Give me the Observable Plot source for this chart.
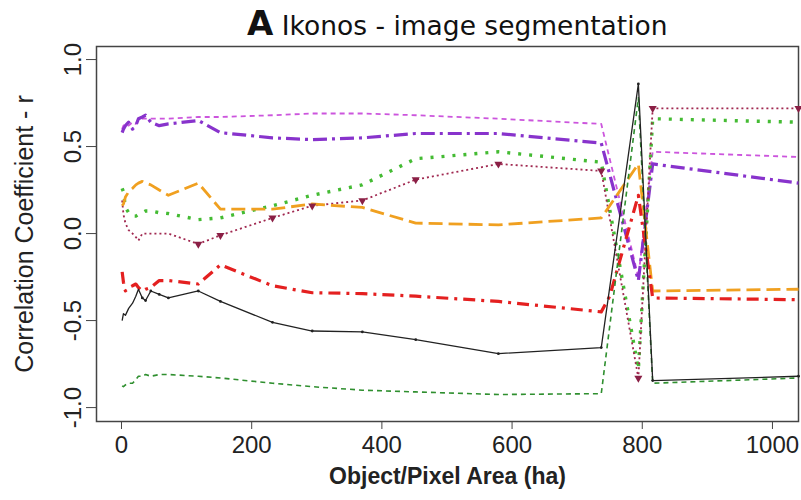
<!DOCTYPE html>
<html><head><meta charset="utf-8">
<script src="https://cdn.jsdelivr.net/npm/d3@7"></script>
<script src="https://cdn.jsdelivr.net/npm/@observablehq/plot@0.6"></script>
<style>body{margin:0;background:#fff} #chart{width:801px;height:500px;position:relative}</style>
</head><body><div id="chart"></div>
<script>
// Object/pixel area (ha) sample points
const areaHa = [1,3,6,11,17,22,26,32,37,45,58,72,118,152,232,293,370,452,579,737,750,794,816,1040];
// Correlation coefficient r for each series (null = no point at that area)
const rOrchid   = [0.60,0.62,0.63,0.62,0.64,0.63,0.65,0.66,0.66,0.66,0.66,0.66,0.67,0.67,0.68,0.69,0.69,0.68,0.66,0.63,null,-0.25,0.47,0.44];
const rPurple   = [0.58,0.60,0.62,0.64,0.60,0.62,0.66,0.67,0.68,0.64,0.62,0.63,0.65,0.58,0.55,0.54,0.55,0.575,0.575,0.52,null,-0.27,0.40,0.29];
const rLime     = [0.26,0.24,0.15,0.12,0.10,0.10,0.11,0.12,0.13,0.13,0.12,0.115,0.08,0.09,0.16,0.22,0.28,0.43,0.47,0.41,null,-0.78,0.66,0.64];
const rMaroon   = [0.19,0.11,0.06,0.02,0.0,-0.02,-0.04,0.0,0.0,0.0,0.0,0.0,-0.06,-0.01,0.09,0.16,0.19,0.31,0.40,0.36,null,-0.83,0.72,0.72];
const rOrange   = [0.16,0.17,0.21,0.24,0.26,0.28,0.29,0.30,0.29,0.28,0.25,0.22,0.29,0.14,0.14,0.17,0.15,0.06,0.05,0.09,0.16,0.40,-0.33,-0.32];
const rRed      = [-0.22,-0.28,-0.33,-0.31,-0.30,-0.29,-0.31,-0.33,-0.32,-0.31,-0.27,-0.27,-0.29,-0.18,-0.30,-0.34,-0.345,-0.36,-0.39,-0.45,-0.36,0.22,-0.37,-0.38];
const rDarkGreen= [-0.875,-0.88,-0.87,-0.86,-0.86,-0.84,-0.82,-0.82,-0.81,-0.82,-0.81,-0.81,-0.82,-0.83,-0.86,-0.88,-0.90,-0.91,-0.925,-0.92,null,0.78,-0.86,-0.83];
const rBlack    = [-0.50,-0.46,-0.47,-0.43,-0.40,-0.36,-0.32,-0.37,-0.385,-0.33,-0.35,-0.37,-0.33,-0.39,-0.51,-0.56,-0.565,-0.61,-0.69,-0.655,null,0.86,-0.845,-0.82];

const xTicks = [0,200,400,600,800,1000];
const yTicks = [-1,-0.5,0,0.5,1];

const seriesDefs = [
  {values: rOrchid,    stroke: "#cc55dd", width: 1.8, dash: "5,4"},
  {values: rPurple,    stroke: "#8833cc", width: 3.2, dash: "14,5,3,5"},
  {values: rLime,      stroke: "#44bb33", width: 3.4, dash: "3,8"},
  {values: rMaroon,    stroke: "#a02850", width: 1.8, dash: "2,3"},
  {values: rOrange,    stroke: "#f0a020", width: 2.8, dash: "14,6"},
  {values: rRed,       stroke: "#e42020", width: 3.2, dash: "12,6,3,6"},
  {values: rDarkGreen, stroke: "#2f8f2f", width: 1.6, dash: "5,4"},
  {values: rBlack,     stroke: "#222222", width: 1.3, dash: null}
];

function rows(values) {
  return areaHa.map((x, i) => ({x, r: values[i]})).filter(d => d.r != null);
}

const marks = [Plot.frame({stroke: "#444", strokeWidth: 1.5})];
for (const s of seriesDefs) {
  marks.push(Plot.line(rows(s.values), {
    x: "x", y: "r", stroke: s.stroke, strokeWidth: s.width,
    strokeDasharray: s.dash, strokeLinecap: "butt", strokeLinejoin: "round"
  }));
}
marks.push(Plot.dot(rows(rMaroon).filter(d => d.x >= 100), {x: "x", y: "r", symbol: "triangle", rotate: 180, r: 3, fill: "#8a1f45", stroke: "none"}));
marks.push(Plot.dot(rows(rBlack).filter(d => d.x >= 30), {x: "x", y: "r", r: 1.4, fill: "#222", stroke: "none"}));

marks.push(Plot.axisY({ticks: yTicks, tickFormat: d => d.toFixed(1), tickRotate: -90, tickSize: 10, tickPadding: 6, fontSize: 24, label: null, stroke: "#444"}));
marks.push(Plot.axisX({ticks: xTicks, tickFormat: d => String(d), tickSize: 8, tickPadding: 6, fontSize: 24, label: null, stroke: "#444"}));
marks.push(Plot.text(["Correlation Coefficient - r"], {text: d => d, frameAnchor: "left", textAnchor: "middle", lineAnchor: "middle", dx: -72, rotate: -90, fontSize: 25, fill: "#222"}));
marks.push(Plot.text(["Object/Pixel Area (ha)"], {text: d => d, frameAnchor: "bottom", dy: 62, fontSize: 23, fontWeight: "bold", fill: "#222"}));

const chart = Plot.plot({
  width: 801, height: 500,
  marginLeft: 96, marginRight: 3, marginTop: 46, marginBottom: 79,
  x: {domain: [-38.4, 1040]},
  y: {domain: [-1.08, 1.075]},
  style: {fontFamily: "Liberation Sans, Arial, sans-serif", color: "#222", background: "#fff"},
  marks
});
document.getElementById("chart").appendChild(chart);

// Title
const svg = d3.select(chart);
const t = svg.append("text").attr("x", 247).attr("y", 35).attr("fill", "#111")
  .attr("text-anchor", "start")
  .style("font-family", "DejaVu Sans, sans-serif");
t.append("tspan").text("A").style("font-weight", "bold").style("font-size", "34px");
t.append("tspan").text(" Ikonos - image segmentation").style("font-size", "26.5px");
</script>
</body></html>
